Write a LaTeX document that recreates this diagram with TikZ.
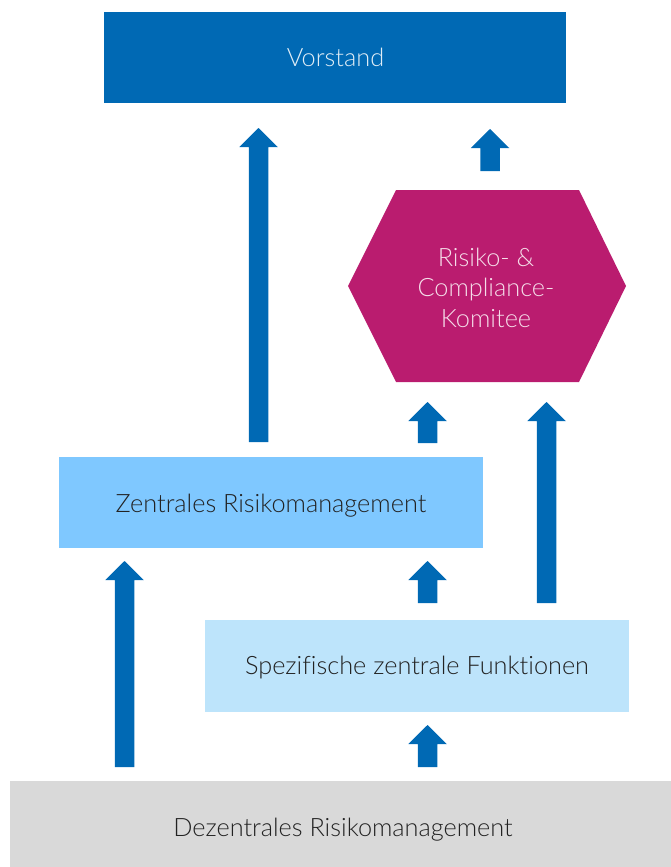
\documentclass[tikz,border=0pt]{standalone}
\usepackage{fontspec}
\setmainfont{Lato Light}[Ligatures={NoCommon}]
\definecolor{dblue}{HTML}{0069B4}
\definecolor{mag}{HTML}{BA1C6F}
\definecolor{lblue}{HTML}{7FC8FF}
\definecolor{vlblue}{HTML}{BDE4FB}
\definecolor{lgray}{HTML}{D9D9D9}
\definecolor{txt}{HTML}{222222}
\newcommand\barrow[3]{\fill[dblue] ({#1-9.75},#3) -- ({#1-9.75},{#2+19}) -- ({#1-19.25},{#2+19}) -- (#1,#2) -- ({#1+19.25},{#2+19}) -- ({#1+9.75},{#2+19}) -- ({#1+9.75},#3) -- cycle;}
\tikzset{
  box/.style={inner sep=0pt, draw=none},
  lbl/.style={inner sep=0pt, anchor=base, font=\fontsize{25.3}{31}\selectfont},
}
\begin{document}
\begin{tikzpicture}[x=1pt,y=-1pt]
\useasboundingbox (0,0) rectangle (671,867);
\node[box, fill=dblue, minimum width=462, minimum height=91] (vorstand) at (335,57.5) {};
\node[lbl, text=white!88!dblue] (vorstandtxt) at (335.5,66.7) {Vorstand};
\fill[mag] (396,190) -- (579,190) -- (626,286) -- (579,382) -- (396,382) -- (348,286) -- cycle;
\node[lbl, text=white!85!mag] (kom1) at (486,266) {Risiko- \&};
\node[lbl, text=white!85!mag] (kom2) at (486,296.7) {Compliance-};
\node[lbl, text=white!85!mag] (kom3) at (486,327.3) {Komitee};
\node[box, fill=lblue, minimum width=424, minimum height=91] (zentral) at (271,502.5) {};
\node[lbl, text=txt] (zentraltxt) at (271,512.7) {Zentrales Risikomanagement};
\node[box, fill=vlblue, minimum width=424, minimum height=91.5] (spez) at (417,665.75) {};
\node[lbl, text=txt] (speztxt) at (417,674.3) {Spezifische zentrale Funktionen};
\node[box, fill=lgray, minimum width=661, minimum height=86] (dezentral) at (340.5,824) {};
\node[lbl, text=txt] (dezentraltxt) at (343,836.7) {Dezentrales Risikomanagement};
\barrow{258.5}{128}{442}
\barrow{490}{129}{171}
\barrow{427.5}{402}{443}
\barrow{546.5}{402}{603}
\barrow{427.5}{561}{603}
\barrow{124.5}{561}{767}
\barrow{427.5}{725}{767}
\end{tikzpicture}
\end{document}
